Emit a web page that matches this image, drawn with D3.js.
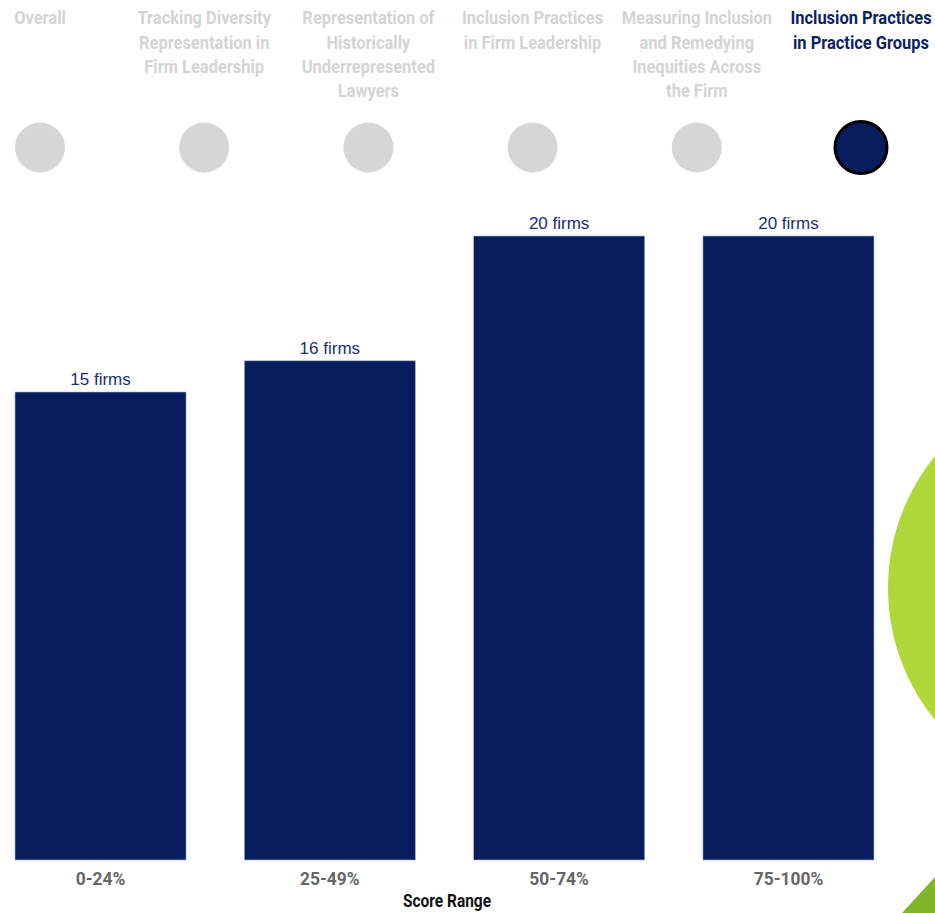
<!DOCTYPE html>
<html>
<head>
<meta charset="utf-8">
<script src="https://cdn.jsdelivr.net/npm/d3@7"></script>
<style>
  html, body { margin: 0; padding: 0; background: #fff; }
  svg { display: block; }
</style>
</head>
<body>
<svg id="chart" width="935" height="913"></svg>
<script>
// Score-range distribution for the selected tab
const categories = ["0-24%", "25-49%", "50-74%", "75-100%"];
const firmCounts = [15, 16, 20, 20];

// Navigation tabs across the top
const tabLabels = [
  ["Overall"],
  ["Tracking Diversity", "Representation in", "Firm Leadership"],
  ["Representation of", "Historically", "Underrepresented", "Lawyers"],
  ["Inclusion Practices", "in Firm Leadership"],
  ["Measuring Inclusion", "and Remedying", "Inequities Across", "the Firm"],
  ["Inclusion Practices", "in Practice Groups"]
];
const activeTab = 5;

const navy = "#071d5e";
const svg = d3.select("#chart");
const condensed = "'Roboto', 'Liberation Sans', sans-serif";

// Decorative green shapes on the right edge
svg.append("circle")
  .attr("cx", 1097).attr("cy", 588).attr("r", 209)
  .attr("fill", "#b0d83b");
svg.append("path")
  .attr("d", "M902,913 L935,877 L935,913 Z")
  .attr("fill", "#80b72a");

// Tab header (narrowed bold type)
const tabX = d3.scalePoint()
  .domain(d3.range(tabLabels.length))
  .range([40, 861]);

const tabs = svg.append("g").selectAll("g")
  .data(tabLabels)
  .join("g")
  .attr("transform", (d, i) => `translate(${tabX(i)},0)`);

tabs.each(function(lines, i) {
  const g = d3.select(this);
  const active = i === activeTab;
  const t = g.append("text")
    .attr("text-anchor", "middle")
    .attr("transform", "scale(0.89,1)")
    .attr("font-family", condensed)
    .attr("font-weight", 700)
    .attr("font-size", 18.5)
    .attr("fill", active ? "#0b2263" : "#d4d4d4");
  t.selectAll("tspan")
    .data(lines)
    .join("tspan")
    .attr("x", 0)
    .attr("y", (d, k) => 24.5 + k * 24.3)
    .text(d => d);
  g.append("circle")
    .attr("cy", 147.5)
    .attr("r", active ? 26 : 25)
    .attr("fill", active ? navy : "#d6d6d6")
    .attr("stroke", active ? "#000" : "none")
    .attr("stroke-width", active ? 3 : 0);
});

// Bar chart
const x = d3.scaleBand()
  .domain(categories)
  .range([15, 874])
  .paddingInner(0.254)
  .paddingOuter(0);

const y = d3.scaleLinear()
  .domain([0, 20])
  .range([860, 236]);

const data = categories.map((c, i) => ({ cat: c, value: firmCounts[i] }));

svg.append("g").selectAll("rect")
  .data(data)
  .join("rect")
  .attr("x", d => x(d.cat))
  .attr("y", d => y(d.value))
  .attr("width", x.bandwidth())
  .attr("height", d => y(0) - y(d.value))
  .attr("fill", navy)
  .attr("stroke", "#aab4d4")
  .attr("stroke-width", 0.6);

svg.append("g").selectAll("text")
  .data(data)
  .join("text")
  .attr("x", d => x(d.cat) + x.bandwidth() / 2)
  .attr("y", d => y(d.value) - 7)
  .attr("text-anchor", "middle")
  .attr("font-family", "'Liberation Sans', Arial, sans-serif")
  .attr("font-size", 17)
  .attr("fill", "#1b2f6e")
  .text(d => `${d.value} firms`);

// Category axis
const xAxis = svg.append("g")
  .attr("transform", `translate(0,${y(0)})`)
  .call(d3.axisBottom(x).tickSize(0).tickPadding(0));
xAxis.select(".domain").remove();
xAxis.selectAll(".tick text")
  .attr("y", 0)
  .attr("dy", 0)
  .attr("transform", "translate(0,25) scale(0.94,1)")
  .attr("font-family", condensed)
  .attr("font-weight", 700)
  .attr("font-size", 18.5)
  .attr("fill", "#666");

svg.append("text")
  .attr("transform", "translate(447,907) scale(0.86,1)")
  .attr("text-anchor", "middle")
  .attr("font-family", condensed)
  .attr("font-weight", 700)
  .attr("font-size", 18)
  .attr("fill", "#111")
  .text("Score Range");
</script>
</body>
</html>
